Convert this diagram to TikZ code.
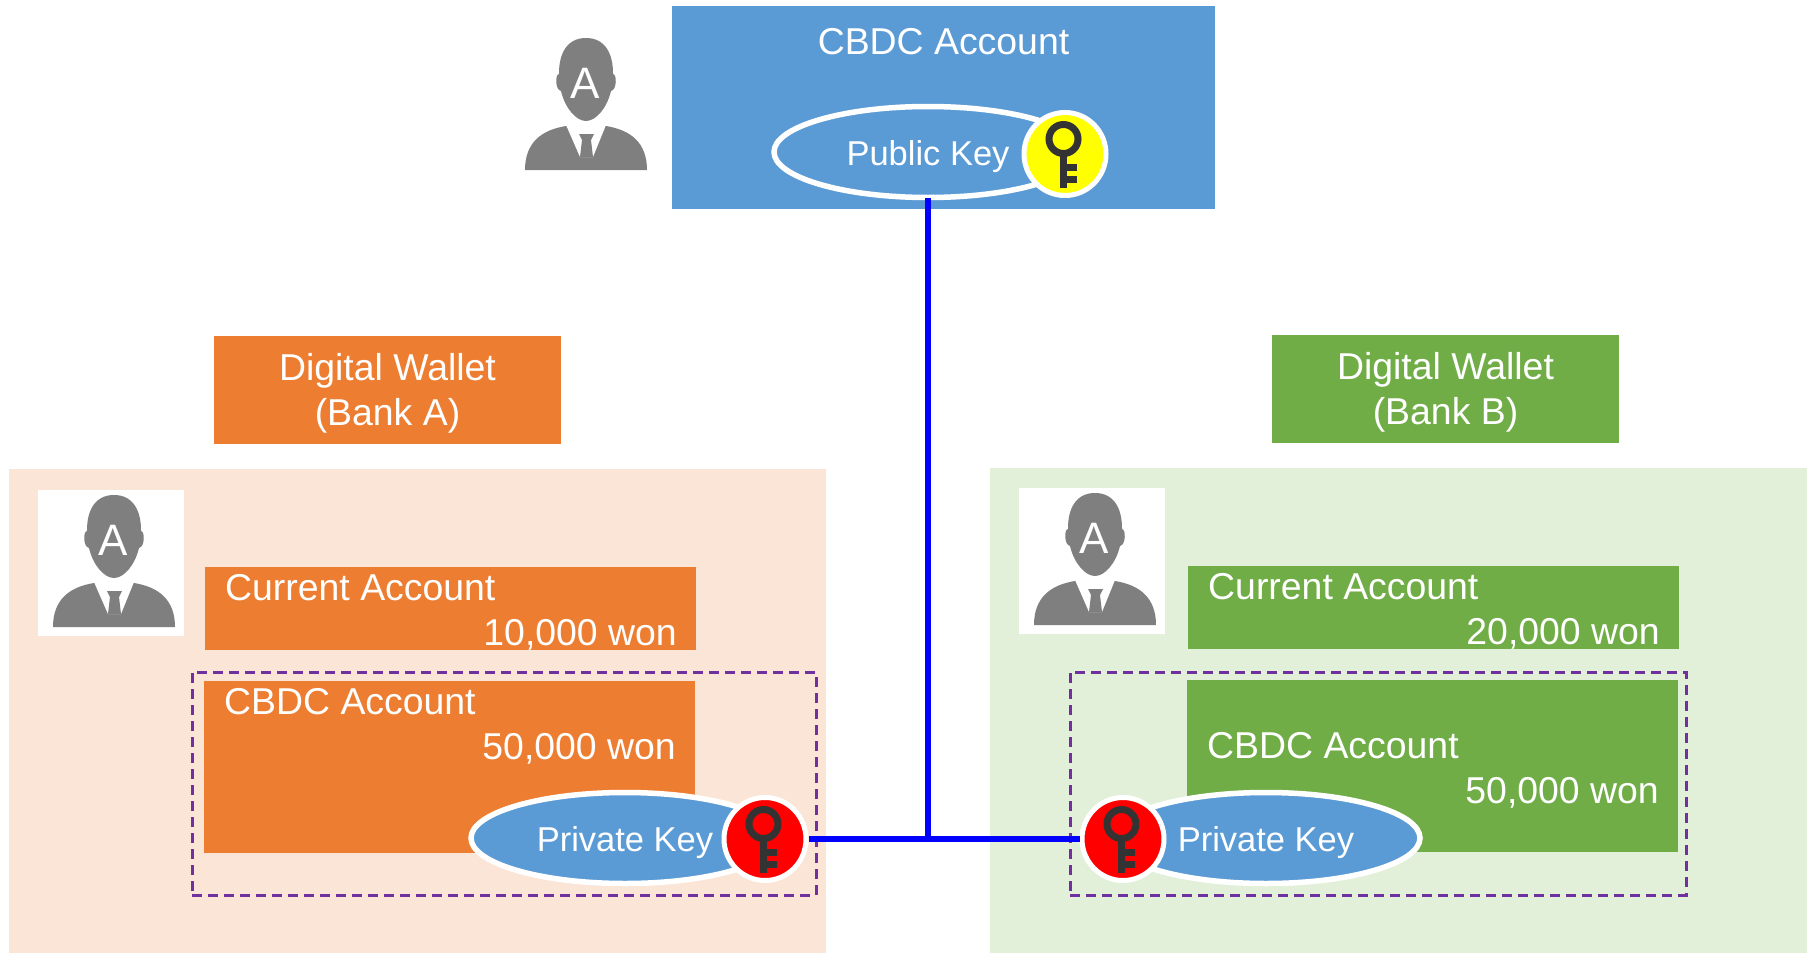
\documentclass[tikz,border=0pt]{standalone}
\usepackage{fontspec}
\setmainfont{Liberation Sans}
\usetikzlibrary{shapes.geometric}
\definecolor{cblue}{HTML}{5B9BD5}
\definecolor{corange}{HTML}{ED7D31}
\definecolor{cgreen}{HTML}{70AD47}
\definecolor{paleo}{HTML}{FBE5D6}
\definecolor{paleg}{HTML}{E2F0D9}
\definecolor{cgray}{HTML}{7F7F7F}
\definecolor{keydark}{HTML}{333333}
\definecolor{cpurple}{HTML}{7030A0}
\definecolor{pureyellow}{RGB}{255,255,0}
\definecolor{purered}{RGB}{255,0,0}
\definecolor{pureblue}{RGB}{0,0,255}
\newcommand{\bigtext}{\fontsize{37.4}{45}\selectfont}
\newcommand{\midtext}{\fontsize{34.5}{40}\selectfont}
\tikzset{
  x=1pt,y=-1pt,
  box/.style={draw=none,inner sep=0pt,outer sep=0pt},
  label text/.style={text=white,font=\bigtext,inner sep=0pt,anchor=base west},
  amount text/.style={text=white,font=\bigtext,inner sep=0pt,anchor=base east},
  keyoval/.style={ellipse,draw=white,line width=5.5pt,inner sep=0pt,outer sep=0pt,minimum width=308pt,minimum height=91pt},
  keyword/.style={text=white,font=\midtext,inner sep=0pt,anchor=base},
  keydisc/.style={ellipse,draw=white,line width=5pt,inner sep=0pt,minimum width=82pt,minimum height=83pt},
  dashbox/.style={draw=cpurple,line width=3pt,dash pattern=on 10pt off 6pt,inner sep=0pt,outer sep=0pt},
  link/.style={draw=pureblue,line width=6pt},
  person/.pic={
    \fill[cgray] (0,0) .. controls (-20,0) and (-27,17) .. (-27,35) -- (-27,36)
       .. controls (-31,36) and (-31,52) .. (-25,53)
       .. controls (-21,70) and (-10,83) .. (0,83)
       .. controls (10,83) and (21,70) .. (25,53)
       .. controls (31,52) and (31,36) .. (27,36) -- (27,35)
       .. controls (27,17) and (20,0) .. (0,0) -- cycle;
    \fill[cgray] (-61,132) .. controls (-61,105) and (-45,92) .. (-20,88) -- (20,88)
       .. controls (45,92) and (61,105) .. (61,132) -- cycle;
    \fill[white] (-20,87) -- (20,87) -- (7,119) -- (-6,119) -- cycle;
    \fill[cgray] (-7,96) -- (8,96) -- (5,102) -- (7,119) -- (-6,119) -- (-4,102) -- cycle;
    \node[text=white,font=\fontsize{44}{44}\selectfont,inner sep=0pt,anchor=base] at (-1,60) {A};
  },
  keyglyph/.pic={
    \draw[keydark,line width=7pt] (-1.5,-15) circle [radius=14.5pt];
    \fill[keydark] (-5,0) rectangle (2.4,34);
    \fill[keydark] (0,10) rectangle (11.5,17);
    \fill[keydark] (0,22) rectangle (11.5,29);
  }
}
\begin{document}
\begin{tikzpicture}
\useasboundingbox (0,0) rectangle (1816,953);
% panels
\node[box,fill=paleo,minimum width=817pt,minimum height=484pt] (paneL) at (417.5,711) {};
\node[box,fill=paleg,minimum width=817pt,minimum height=485pt] (paneR) at (1398.5,710.5) {};
\node[box,fill=white,minimum width=146pt,minimum height=146pt] (whiteL) at (111,563) {};
\node[box,fill=white,minimum width=146pt,minimum height=146pt] (whiteR) at (1092,561) {};
% top account
\node[box,fill=cblue,minimum width=543pt,minimum height=203pt] (cbdcTop) at (943.5,107.5) {};
\node[label text,anchor=base] (cbdcTopText) at (943.5,54) {CBDC Account};
% wallets
\node[box,fill=corange,minimum width=347pt,minimum height=108pt] (walletA) at (387.5,390) {};
\node[box,fill=cgreen,minimum width=347pt,minimum height=108pt] (walletB) at (1445.5,389) {};
\node[label text,anchor=north,align=center] (walletAt) at (387.5,353.5) {Digital Wallet\\(Bank A)};
\node[label text,anchor=north,align=center] (walletBt) at (1445.5,352.5) {Digital Wallet\\(Bank B)};
% accounts
\node[box,fill=corange,minimum width=491pt,minimum height=83pt] (curA) at (450.5,608.5) {};
\node[box,fill=cgreen,minimum width=491pt,minimum height=83pt] (curB) at (1433.5,607.5) {};
\node[box,fill=corange,minimum width=491pt,minimum height=172pt] (accA) at (449.5,767) {};
\node[box,fill=cgreen,minimum width=491pt,minimum height=172pt] (accB) at (1432.5,766) {};
\node[label text] (curAt) at (225,600) {Current Account};
\node[amount text] (curAn) at (677,645) {10,000 won};
\node[label text] (accAt) at (224,714) {CBDC Account};
\node[amount text] (accAn) at (676,759) {50,000 won};
\node[label text] (curBt) at (1208,599) {Current Account};
\node[amount text] (curBn) at (1660,644) {20,000 won};
\node[label text] (accBt) at (1207,758) {CBDC Account};
\node[amount text] (accBn) at (1659,803) {50,000 won};
% dashed frames
\node[dashbox,minimum width=624pt,minimum height=223pt] (dashL) at (504,783.5) {};
\node[dashbox,minimum width=616pt,minimum height=223pt] (dashR) at (1378,783.5) {};
% key ovals
\node[keyoval] (pub) at (928,152) {};
\node[keyoval,fill=cblue] (privL) at (625,838) {};
\node[keyoval,fill=cblue] (privR) at (1266,838) {};
\node[keyword] (pubt) at (928,165) {Public Key};
\node[keyword] (privLt) at (625,851) {Private Key};
\node[keyword] (privRt) at (1266,851) {Private Key};
% key discs
\node[keydisc,fill=pureyellow] (keyPub) at (1065,154) {};
\node[keydisc,fill=purered] (keyL) at (765,839) {};
\node[keydisc,fill=purered] (keyR) at (1123,839) {};
\pic at (keyPub) {keyglyph};
\pic at (keyL) {keyglyph};
\pic at (keyR) {keyglyph};
% connectors
\coordinate (junc) at (pub.south |- keyL.east);
\draw[link] (keyL.east) -- (keyR.west);
\draw[link] (pub.south) -- (junc);
% people
\pic at (586,38) {person};
\pic at (114,495) {person};
\pic at (1095,493) {person};
\end{tikzpicture}
\end{document}
